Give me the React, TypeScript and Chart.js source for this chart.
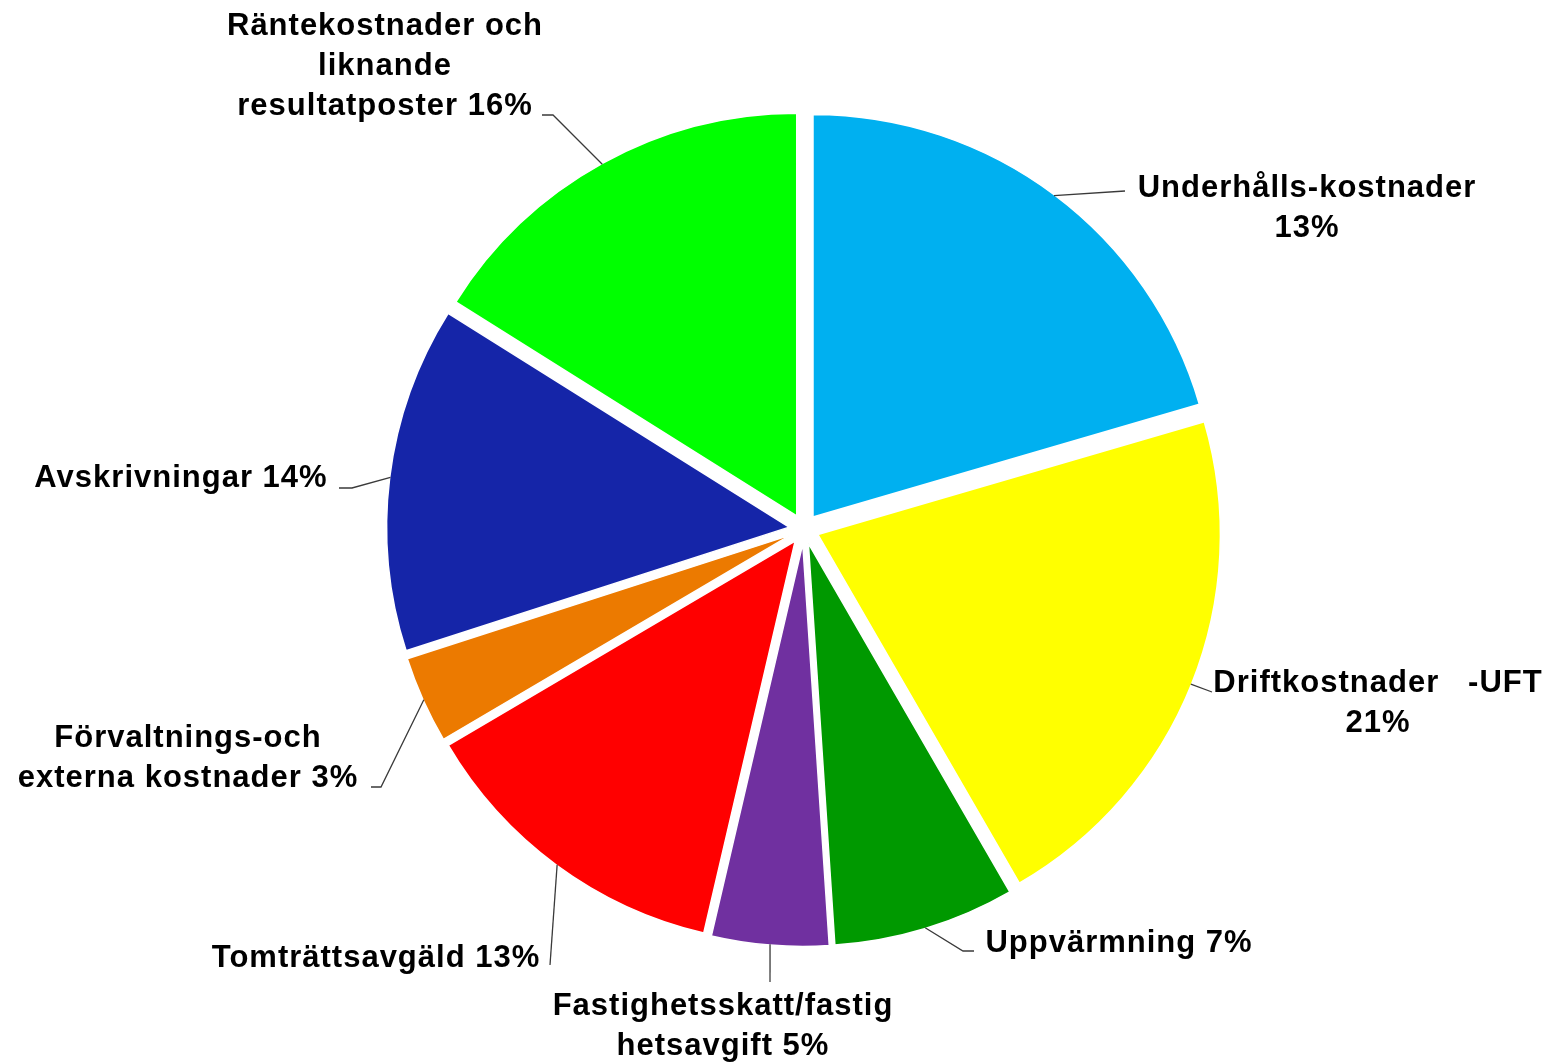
import React, { useEffect, useRef } from "react";
import { Chart, registerables } from "chart.js";

Chart.register(...registerables);

// ---- Data ----
const categories = [
  "Underhålls-kostnader",
  "Driftkostnader -UFT",
  "Uppvärmning",
  "Fastighetsskatt/fastighetsavgift",
  "Tomträttsavgäld",
  "Förvaltnings-och externa kostnader",
  "Avskrivningar",
  "Räntekostnader och liknande resultatposter",
];
const values = [20.5, 21.2, 7.3, 4.7, 12.9, 3.5, 13.9, 16.1];
const percentLabels = ["13%", "21%", "7%", "5%", "13%", "3%", "14%", "16%"];
const labelLines = [
  ["Underhålls-kostnader", percentLabels[0]],
  ["Driftkostnader   -UFT", percentLabels[1]],
  ["Uppvärmning " + percentLabels[2]],
  ["Fastighetsskatt/fastig", "hetsavgift " + percentLabels[3]],
  ["Tomträttsavgäld " + percentLabels[4]],
  ["Förvaltnings-och", "externa kostnader " + percentLabels[5]],
  ["Avskrivningar " + percentLabels[6]],
  ["Räntekostnader och", "liknande", "resultatposter " + percentLabels[7]],
];
const colors = [
  "#00B0F0",
  "#FFFF00",
  "#009900",
  "#7030A0",
  "#FF0000",
  "#EC7A00",
  "#1525A8",
  "#00FF00",
];

// ---- Layout (label placement, leader-line bends) ----
const labelLayout: { cx: number; y: number; path: number[][] }[] = [
  { cx: 1307, y: 197, path: [[1125, 191]] },
  { cx: 1378, y: 692, path: [[1212, 692]] },
  { cx: 1119, y: 952, path: [[963, 951], [974, 951]] },
  { cx: 723, y: 1015, path: [[770, 982]] },
  { cx: 376, y: 967, path: [[550, 965]] },
  { cx: 188, y: 747, path: [[381, 787], [371, 787]] },
  { cx: 181, y: 487, path: [[352, 488], [339, 488]] },
  { cx: 385, y: 35, path: [[553, 115], [542, 115]] },
];
const BORDER = 1.5;
const EXPLODE = 15;
const RADIUS = 402.5;
const LINE_HEIGHT = 40;

const explodePlugin = {
  id: "explodeSlices",
  beforeDatasetDraw(chart: any, args: any) {
    const meta = args.meta;
    meta.data.forEach((arc: any) => {
      if (arc.__exploded) return;
      const orig = arc.draw.bind(arc);
      arc.draw = (ctx: CanvasRenderingContext2D, area: any) => {
        const p = arc.getProps(["startAngle", "endAngle"], true);
        const mid = (p.startAngle + p.endAngle) / 2;
        ctx.save();
        ctx.translate(Math.cos(mid) * EXPLODE, Math.sin(mid) * EXPLODE);
        orig(ctx, area);
        ctx.restore();
      };
      arc.__exploded = true;
    });
  },
};

const labelPlugin = {
  id: "outsideLabels",
  afterDraw(chart: any) {
    const ctx = chart.ctx as CanvasRenderingContext2D;
    const meta = chart.getDatasetMeta(0);
    ctx.save();
    meta.data.forEach((arc: any, i: number) => {
      const p = arc.getProps(["x", "y", "startAngle", "endAngle", "outerRadius"], true);
      const mid = (p.startAngle + p.endAngle) / 2;
      const r = p.outerRadius - BORDER / 2 + EXPLODE;
      const sx = p.x + Math.cos(mid) * r;
      const sy = p.y + Math.sin(mid) * r;
      const lay = labelLayout[i];
      ctx.strokeStyle = "#3a3a3a";
      ctx.lineWidth = 1.3;
      ctx.beginPath();
      ctx.moveTo(sx, sy);
      lay.path.forEach((pt) => ctx.lineTo(pt[0], pt[1]));
      ctx.stroke();

      ctx.fillStyle = "#000000";
      ctx.font = 'bold 31px "Liberation Sans", Arial, sans-serif';
      (ctx as any).letterSpacing = "1px";
      ctx.textAlign = "center";
      ctx.textBaseline = "alphabetic";
      labelLines[i].forEach((line, j) => {
        ctx.fillText(line, lay.cx, lay.y + j * LINE_HEIGHT);
      });
    });
    ctx.restore();
  },
};

export default function App() {
  const ref = useRef<HTMLCanvasElement | null>(null);
  useEffect(() => {
    if (!ref.current) return;
    const chart = new Chart(ref.current, {
      type: "pie",
      data: {
        labels: categories,
        datasets: [
          {
            data: values,
            backgroundColor: colors,
            borderColor: "#FFFFFF",
            borderWidth: BORDER,
            radius: RADIUS,
          } as any,
        ],
      },
      options: {
        animation: false,
        responsive: false,
        devicePixelRatio: 1,
        layout: { padding: { left: 53, right: 0, top: 0, bottom: 6 } },
        plugins: {
          legend: { display: false },
          tooltip: { enabled: false },
        },
      },
      plugins: [explodePlugin, labelPlugin],
    });
    return () => chart.destroy();
  }, []);
  return (
    <div style={{ position: "absolute", left: 0, top: 0, width: 1555, height: 1064, background: "#fff" }}>
      <canvas ref={ref} width={1555} height={1064} style={{ display: "block" }} />
    </div>
  );
}
